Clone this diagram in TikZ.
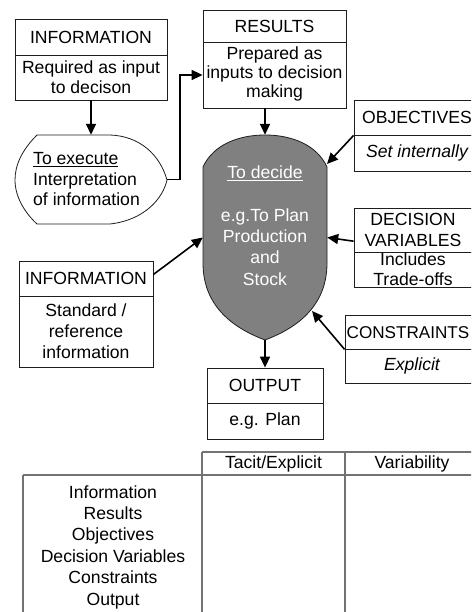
\documentclass[tikz,border=0pt]{standalone}
\usepackage{fontspec}
\setmainfont{Liberation Sans}
\usetikzlibrary{arrows.meta,calc}
\definecolor{shieldgray}{RGB}{128,128,128}
\definecolor{tgray}{RGB}{115,115,115}
\definecolor{linecol}{RGB}{30,30,30}
\begin{document}
\begin{tikzpicture}[x=1pt,y=-1pt,
  font=\fontsize{17.6}{20.2}\selectfont,
  box/.style={draw=linecol, line width=0.8pt, inner sep=0pt, align=center, minimum width=#1},
  plain/.style={inner sep=0pt, align=center},
  arr/.style={draw=black, line width=1.6pt, -{Triangle[length=11pt,width=10pt]}},
  tline/.style={draw=tgray, line width=2.2pt}
]
\useasboundingbox (0,0) rectangle (471,612);
\clip (0,0) rectangle (471,612);

% ---- INFORMATION (top left)
\node[box=152pt, minimum height=36pt] (inf1t) at (91,37) {INFORMATION};
\node[box=152pt, minimum height=45pt] (inf1b) at (91,77.5) {Required as input\\to decison};

% ---- RESULTS
\node[box=143pt, minimum height=32pt] (rest) at (274.5,26) {RESULTS};
\node[box=143pt, minimum height=66pt] (resb) at (274.5,75) {};
\node[plain, font=\fontsize{17.6}{18.7}\selectfont] (resbtxt) at (274.5,73.8) {Prepared as\\inputs to decision\\making};

% ---- To execute shape
\draw[draw=linecol, line width=0.8pt, fill=white]
  (37,135) -- (110,135) .. controls (140,136) and (160,155) .. (167,180)
  .. controls (163,198) and (145,220) .. (110,224) -- (37,224)
  .. controls (25,213) and (15,197) .. (15,180)
  .. controls (15,165) and (22,150) .. (37,135) -- cycle;
\node[inner sep=0pt, minimum width=152pt, minimum height=89pt] (exe) at (91,179.5) {};
\node[inner sep=0pt, align=left, anchor=west, font=\fontsize{17.6}{20.5}\selectfont] (exetxt) at (33,179.5) {\underline{To execute}\\Interpretation\\of information};

% ---- Shield (To decide)
\draw[draw=linecol, line width=0.8pt, fill=shieldgray]
  (203,167) .. controls (213,145) and (238,135) .. (265,135)
  .. controls (292,135) and (317,145) .. (327,167) -- (327,263)
  .. controls (327,300) and (305,325) .. (265,340)
  .. controls (225,325) and (203,300) .. (203,263) -- cycle;
\node[inner sep=0pt, minimum width=124pt, minimum height=205pt] (shield) at (265,237.5) {};
\node[plain, text=white, font=\fontsize{17.6}{21.4}\selectfont] (shtxt) at (265,225.5) {\underline{To decide}\\[21.4pt]e.g.To Plan\\Production\\and\\Stock};
\coordinate (shTR) at (327,164);
\coordinate (shBR) at (312,311);

% ---- OBJECTIVES
\node[box=126pt, minimum height=35pt] (objt) at (417,117.5) {OBJECTIVES};
\node[box=126pt, minimum height=36pt] (objb) at (417,153) {\itshape Set internally};

% ---- DECISION VARIABLES
\node[box=118pt, minimum height=44pt] (dvt) at (413,230) {DECISION\\VARIABLES};
\node[box=118pt, minimum height=35pt] (dvb) at (413,269.5) {Includes\\Trade-offs};

% ---- CONSTRAINTS
\node[box=134pt, minimum height=34pt] (cont) at (412,332) {};
\node[plain, anchor=west, font=\fontsize{17.1}{20}\selectfont] (conttxt) at (346.5,332.5) {CONSTRAINTS};
\node[box=134pt, minimum height=34pt] (conb) at (412,366) {\itshape Explicit};

% ---- INFORMATION (left)
\node[box=134pt, minimum height=35pt] (inf2t) at (86,278.5) {INFORMATION};
\node[box=134pt, minimum height=71pt, font=\fontsize{17.6}{21}\selectfont] (inf2b) at (86,331.5) {Standard /\\reference\\information};

% ---- OUTPUT
\node[box=116pt, minimum height=35pt] (outt) at (265,385.5) {OUTPUT};
\node[box=116pt, minimum height=36pt] (outb) at (265,421) {e.g. Plan};

% ---- connectors
\draw[arr] (inf1b.south) -- (exe.north);
\draw[arr] (exe.east) -- ++(13,0) |- (resb.west);
\draw[arr] (shield.north |- resb.south) -- (shield.north);
\draw[arr] (objt.south west) -- (shTR);
\draw[arr] ($(dvt.south west)!0.25!(dvt.north west)$) -- (shield.east);
\draw[arr] (cont.south west) -- (shBR);
\draw[arr] ($(inf2t.east)+(0,-4)$) -- (shield.west);
\draw[arr] (shield.south) -- (outt.north);

% ---- table
\draw[tline] (202,452) -- (490,452);
\draw[tline] (23,475) -- (490,475);
\draw[tline] (23,475) -- (23,625);
\draw[tline] (202,452) -- (202,625);
\draw[tline] (345,452) -- (345,625);
\node[plain] (thA) at (273.5,463.5) {Tacit/Explicit};
\node[plain] (thB) at (412,463.5) {Variability};
\node[plain, font=\fontsize{17.6}{21.4}\selectfont] (rows) at (113,547) {Information\\Results\\Objectives\\Decision Variables\\Constraints\\Output};
\end{tikzpicture}
\end{document}
